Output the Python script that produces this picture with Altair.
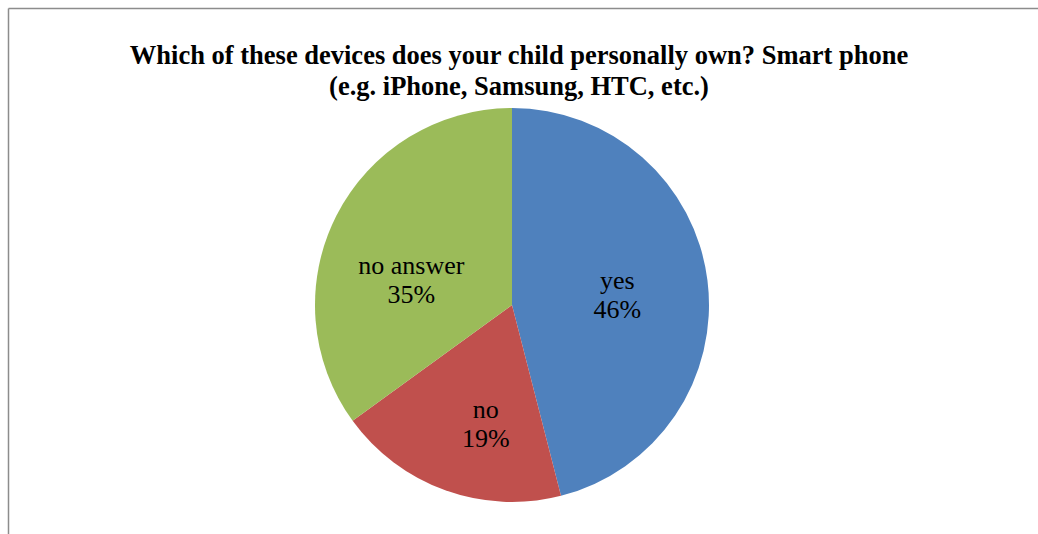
import altair as alt
import pandas as pd

categories = ["yes", "no", "no answer"]
values = [46, 19, 35]
percent_labels = ["46%", "19%", "35%"]
colors = ["#4F81BD", "#C0504D", "#9BBB59"]
title_lines = [
    "Which of these devices does your child personally own? Smart phone",
    "(e.g. iPhone, Samsung, HTC, etc.)",
]

df = pd.DataFrame({
    "cat": categories,
    "value": values,
    "label": [f"{c}\n{p}" for c, p in zip(categories, percent_labels)],
    "order": list(range(len(categories))),
})

W, H = 1038, 534
CX, CY = 512, 305  # pie centre

base = alt.Chart(df).encode(
    theta=alt.Theta("value:Q", stack=True),
    order=alt.Order("order:Q"),
    color=alt.Color("cat:N", scale=alt.Scale(domain=categories, range=colors), legend=None),
)

pie = base.mark_arc(outerRadius=197).encode(x=alt.value(CX), y=alt.value(CY))

labels = base.mark_text(
    radius=108, thetaOffset=-0.1, fontSize=26, font="Liberation Serif", lineBreak="\n",
    lineHeight=29,
).encode(text="label:N", x=alt.value(CX), y=alt.value(CY), color=alt.value("black"))

title_df = pd.DataFrame({"t": ["\n".join(title_lines)]})
title = alt.Chart(title_df).mark_text(
    font="Liberation Serif", fontSize=26.5, fontWeight="bold", lineBreak="\n",
    lineHeight=31, baseline="alphabetic", align="center", color="black",
).encode(text="t:N", x=alt.value(519), y=alt.value(64))

frame_left = alt.Chart(title_df).mark_rule(color="#8c8c8c", strokeWidth=1.5).encode(
    x=alt.value(8.5), y=alt.value(8.5), y2=alt.value(H))
frame_top = alt.Chart(title_df).mark_rule(color="#8c8c8c", strokeWidth=1.5).encode(
    x=alt.value(8.5), x2=alt.value(W), y=alt.value(8.5))

chart = alt.layer(frame_left, frame_top, pie, labels, title).properties(
    width=W, height=H,
    padding=0,
    autosize=alt.AutoSizeParams(type="none"),
    background="white",
).configure_view(strokeWidth=0)

chart.save("out.html", embed_options={"renderer": "svg", "actions": False})
